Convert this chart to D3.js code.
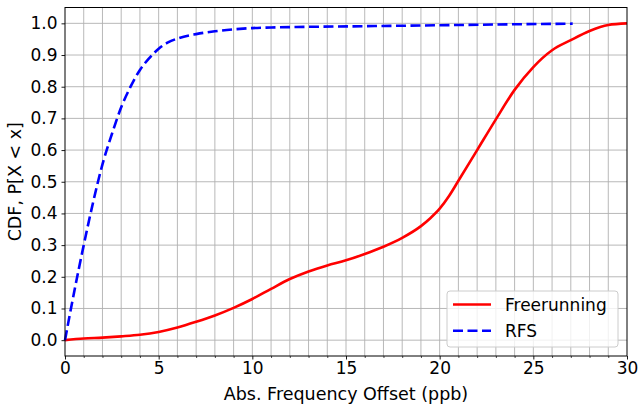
<!DOCTYPE html>
<html>
<head>
<meta charset="utf-8">
<script src="https://cdn.jsdelivr.net/npm/d3@7"></script>
<style>
  body { margin: 0; background: #fff; }
  svg text { font-family: "DejaVu Sans", sans-serif; fill: #000; }
</style>
</head>
<body>
<svg id="chart" width="638" height="407"></svg>
<script>
// Freerunning CDF
const freeX = [0, 1, 2, 3, 4, 5, 6, 7, 8, 9, 10, 11, 12, 13, 14, 15, 16, 17, 18, 19, 19.5, 20, 20.5, 21, 22, 23, 24, 25, 26, 27, 28, 29, 30];
const freeY = [0, 0.005, 0.008, 0.012, 0.017, 0.026, 0.04, 0.058, 0.078, 0.102, 0.13, 0.162, 0.193, 0.217, 0.236, 0.252, 0.272, 0.295, 0.323, 0.36, 0.385, 0.415, 0.455, 0.503, 0.6, 0.697, 0.79, 0.862, 0.915, 0.947, 0.976, 0.995, 1.0];

// RFS CDF
const rfsX = [0, 0.5, 1, 1.5, 2, 2.5, 3, 3.5, 4, 4.5, 5, 5.5, 6, 7, 8, 9, 10, 11, 13, 16, 20, 24, 27.1];
const rfsY = [0, 0.155, 0.3, 0.435, 0.555, 0.65, 0.735, 0.8, 0.853, 0.89, 0.92, 0.94, 0.952, 0.966, 0.975, 0.981, 0.985, 0.987, 0.989, 0.991, 0.994, 0.997, 0.999];

const xTicks = [0, 5, 10, 15, 20, 25, 30];
const yTicks = [0, 0.1, 0.2, 0.3, 0.4, 0.5, 0.6, 0.7, 0.8, 0.9, 1.0];
const seriesNames = ['Freerunning', 'RFS'];

const margin = { top: 7.5, right: 11, bottom: 51, left: 65 };
const width = 638, height = 407;
const innerW = width - margin.left - margin.right;
const innerH = height - margin.top - margin.bottom;

const svg = d3.select('#chart');
const g = svg.append('g').attr('transform', `translate(${margin.left},${margin.top})`);

const x = d3.scaleLinear().domain([0, 30]).range([0, innerW]);
const y = d3.scaleLinear().domain([-0.05, 1.05]).range([innerH, 0]);

// grid: every 1 on x, every 0.1 on y
const gridColor = '#b0b0b0';
g.append('g')
  .selectAll('line')
  .data(d3.range(1, 30))
  .enter().append('line')
  .attr('x1', d => x(d)).attr('x2', d => x(d))
  .attr('y1', 0).attr('y2', innerH)
  .attr('stroke', gridColor).attr('stroke-width', 0.9);
g.append('g')
  .selectAll('line')
  .data(yTicks)
  .enter().append('line')
  .attr('x1', 0).attr('x2', innerW)
  .attr('y1', d => y(d)).attr('y2', d => y(d))
  .attr('stroke', gridColor).attr('stroke-width', 0.9);

// lines
const line = d3.line().curve(d3.curveMonotoneX);
g.append('path')
  .attr('d', line(freeX.map((v, i) => [x(v), y(freeY[i])])))
  .attr('fill', 'none').attr('stroke', '#ff0000').attr('stroke-width', 2.6);
g.append('path')
  .attr('d', line(rfsX.map((v, i) => [x(v), y(rfsY[i])])))
  .attr('fill', 'none').attr('stroke', '#0000ff').attr('stroke-width', 2.6)
  .attr('stroke-dasharray', '10,4.5');

// axes
const xAxis = g.append('g')
  .attr('transform', `translate(0,${innerH})`)
  .call(d3.axisBottom(x).tickValues(xTicks).tickFormat(d3.format('d')).tickSize(3.5).tickPadding(4));
const xMinor = g.append('g')
  .attr('transform', `translate(0,${innerH})`)
  .call(d3.axisBottom(x).tickValues(d3.range(0, 31).filter(d => d % 5)).tickSize(2).tickFormat(''));
xMinor.select('.domain').remove();
const yAxis = g.append('g')
  .call(d3.axisLeft(y).tickValues(yTicks).tickFormat(d3.format('.1f')).tickSize(3.5).tickPadding(4));

[xAxis, yAxis].forEach(a => {
  a.selectAll('text').style('font-size', '17px').attr('fill', '#000');
  a.selectAll('line').attr('stroke', '#000').attr('stroke-width', 0.9);
  a.select('.domain').remove();
});
xMinor.selectAll('line').attr('stroke', '#000').attr('stroke-width', 0.7);
xAxis.selectAll('text').attr('dy', '0.71em').attr('y', 6);

// frame
g.append('rect')
  .attr('x', 0).attr('y', 0).attr('width', innerW).attr('height', innerH)
  .attr('fill', 'none').attr('stroke', '#000').attr('stroke-width', 1);

// axis labels
svg.append('text')
  .attr('x', margin.left + innerW / 2).attr('y', 400)
  .attr('text-anchor', 'middle').style('font-size', '17.5px')
  .text('Abs. Frequency Offset (ppb)');
svg.append('text')
  .attr('transform', `translate(21,${margin.top + innerH / 2}) rotate(-90)`)
  .attr('text-anchor', 'middle').style('font-size', '17.5px')
  .text('CDF, P[X < x]');

// legend
const legend = svg.append('g').attr('transform', 'translate(447,291)');
legend.append('rect')
  .attr('width', 171).attr('height', 56).attr('rx', 3)
  .attr('fill', '#fff').attr('fill-opacity', 0.8)
  .attr('stroke', '#cccccc').attr('stroke-width', 1);
seriesNames.forEach((name, i) => {
  const ly = 13.5 + i * 26.3;
  legend.append('line')
    .attr('x1', 6).attr('x2', 44).attr('y1', ly).attr('y2', ly)
    .attr('stroke', i === 0 ? '#ff0000' : '#0000ff').attr('stroke-width', 2.6)
    .attr('stroke-dasharray', i === 0 ? null : '10,4.5');
  legend.append('text')
    .attr('x', 58).attr('y', ly + 6.5)
    .style('font-size', '17px')
    .text(name);
});
</script>
</body>
</html>
